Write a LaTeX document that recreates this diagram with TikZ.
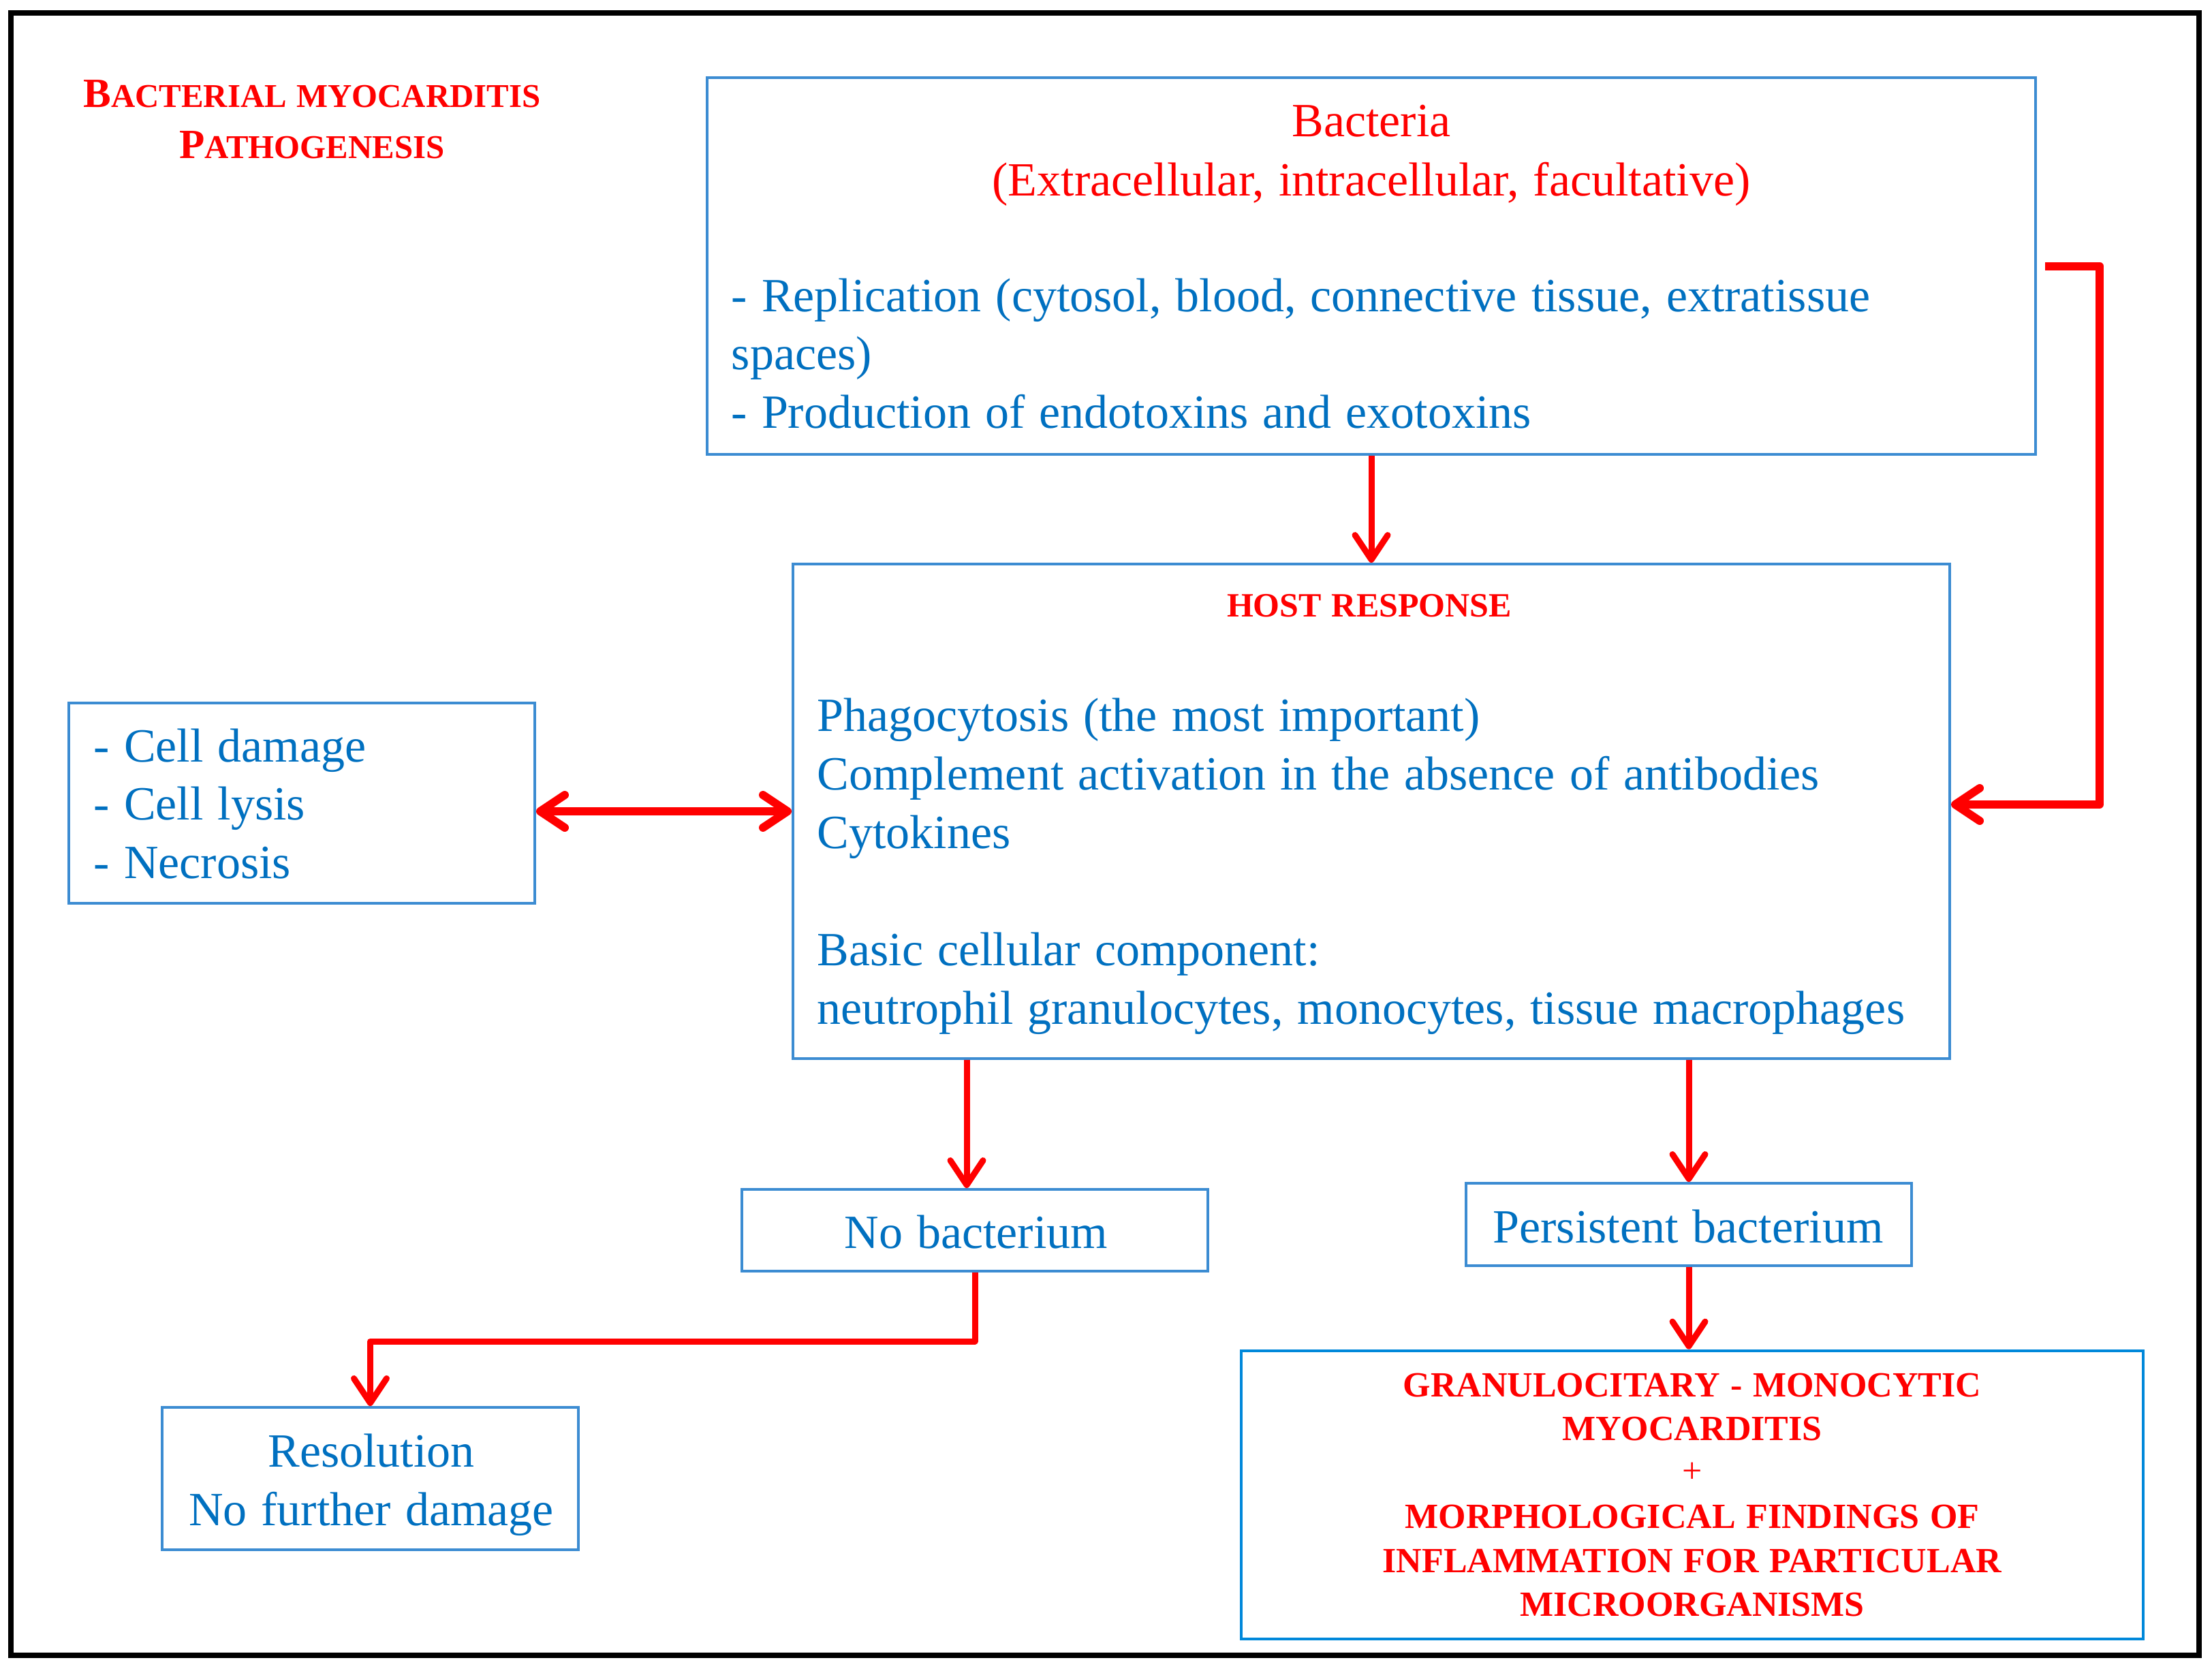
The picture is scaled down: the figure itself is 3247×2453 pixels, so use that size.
\documentclass[tikz,border=0pt]{standalone}
\usepackage{fontspec}
\setmainfont{Liberation Serif}[WordSpace=1.2]
\usetikzlibrary{arrows.meta}
\definecolor{txtblue}{RGB}{0,112,192}
\definecolor{boxblue}{RGB}{60,140,210}
\definecolor{granblue}{RGB}{0,136,218}
\definecolor{myred}{RGB}{255,0,0}
\newcommand\tsc[2]{{\fontsize{15.25}{18}\selectfont #1}{\fontsize{12.2}{15}\selectfont #2}}
\begin{document}
\begin{tikzpicture}[x=0.25pt,y=-0.25pt,
  bx/.style={draw=boxblue, line width=1pt, inner sep=0pt, fill=white},
  bt/.style={font=\fontsize{17.5}{21}\selectfont, text=txtblue, inner sep=0pt, anchor=base west},
  btc/.style={font=\fontsize{17.5}{21}\selectfont, text=txtblue, inner sep=0pt, anchor=base},
  rt/.style={font=\fontsize{17.5}{21}\selectfont, text=myred, inner sep=0pt, anchor=base},
  hr/.style={font=\fontsize{12.5}{15}\selectfont\bfseries, text=myred, inner sep=0pt, anchor=base},
  gt/.style={font=\fontsize{13}{15}\selectfont\bfseries, text=myred, inner sep=0pt, anchor=base},
  ttl/.style={font=\bfseries, text=myred, inner sep=0pt, anchor=base},
  tipb/.tip={Straight Barb[length=9pt,width=12pt,round]},
  arrv/.style={draw=myred, line width=2.25pt, -tipb},
  arrh/.style={draw=myred, line width=3pt, -tipb},
  arrd/.style={draw=myred, line width=3pt, tipb-tipb},
]
\useasboundingbox (0,0) rectangle (3247,2453);
\fill[white] (0,0) rectangle (3247,2453);
% outer frame
\draw[line width=2pt, black] (16,19) rectangle (3228,2430);

% title
\node[ttl] (t1) at (458,157) {\tsc{B}{ACTERIAL MYOCARDITIS}};
\node[ttl] (t2) at (458,232) {\tsc{P}{ATHOGENESIS}};

% boxes
\node[bx, minimum width={1950*0.25pt}, minimum height={553*0.25pt}] (bact) at (2013,390.5) {};
\node[bx, minimum width={1698*0.25pt}, minimum height={726*0.25pt}] (host) at (2013,1191) {};
\node[bx, minimum width={684*0.25pt}, minimum height={294*0.25pt}] (dmg) at (443,1179) {};
\node[bx, minimum width={684*0.25pt}, minimum height={120*0.25pt}] (nob) at (1431,1806) {};
\node[bx, minimum width={654*0.25pt}, minimum height={121*0.25pt}] (pers) at (2479,1797.5) {};
\node[bx, draw=granblue, line width=1.2pt, minimum width={1324*0.25pt}, minimum height={423*0.25pt}] (gran) at (2484,2194.5) {};
\node[bx, minimum width={611*0.25pt}, minimum height={209*0.25pt}] (res) at (543.5,2170.5) {};

% bacteria texts
\node[rt] (b1) at (2013,200) {Bacteria};
\node[rt] (b2) at (2013,287) {(Extracellular, intracellular, facultative)};
\node[bt] (b3) at (1073,457) {- Replication (cytosol, blood, connective tissue, extratissue};
\node[bt] (b4) at (1073,542) {spaces)};
\node[bt] (b5) at (1073,628) {- Production of endotoxins and exotoxins};

% host texts
\node[hr] (h0) at (2010,905) {HOST RESPONSE};
\node[bt] (h1) at (1199,1073) {Phagocytosis (the most important)};
\node[bt] (h2) at (1199,1159) {Complement activation in the absence of antibodies};
\node[bt] (h3) at (1199,1245) {Cytokines};
\node[bt] (h4) at (1199,1417) {Basic cellular component:};
\node[bt] (h5) at (1199,1503) {neutrophil granulocytes, monocytes, tissue macrophages};

% damage texts
\node[bt] (d1) at (137,1118) {- Cell damage};
\node[bt] (d2) at (137,1203) {- Cell lysis};
\node[bt] (d3) at (137,1289) {- Necrosis};

% small boxes texts
\node[btc] (n1) at (1433,1832) {No bacterium};
\node[btc] (p1) at (2478,1824) {Persistent bacterium};
\node[btc] (r1) at (545,2153) {Resolution};
\node[btc] (r2) at (545,2239) {No further damage};

% granulocitary texts
\node[gt] (g1) at (2484,2050) {GRANULOCITARY - MONOCYTIC};
\node[gt] (g2) at (2484,2114) {MYOCARDITIS};
\node[gt, font=\fontsize{13}{15}\selectfont] (g3) at (2484,2176) {+};
\node[gt] (g4) at (2484,2243) {MORPHOLOGICAL FINDINGS OF};
\node[gt] (g5) at (2484,2308) {INFLAMMATION FOR PARTICULAR};
\node[gt] (g6) at (2484,2372) {MICROORGANISMS};

% connectors
\draw[arrv] (bact.south) -- (host.north);
\coordinate (rc) at (3082,390.5);
\draw[arrh, line join=round] ([xshift=3pt]bact.east) -- (rc) |- ([yshift=2.5pt]host.east);
\draw[arrd] (dmg.east |- host.west) -- (host.west);
\draw[arrv] ([xshift=-3pt]nob.north |- host.south) -- ([xshift=-3pt]nob.north);
\draw[arrv] (pers.north |- host.south) -- (pers.north);
\draw[arrv] (pers.south) -- (pers.south |- gran.north);
\draw[arrv, line join=round] (nob.south) -- ++(0,101) -| (res.north);
\end{tikzpicture}
\end{document}
